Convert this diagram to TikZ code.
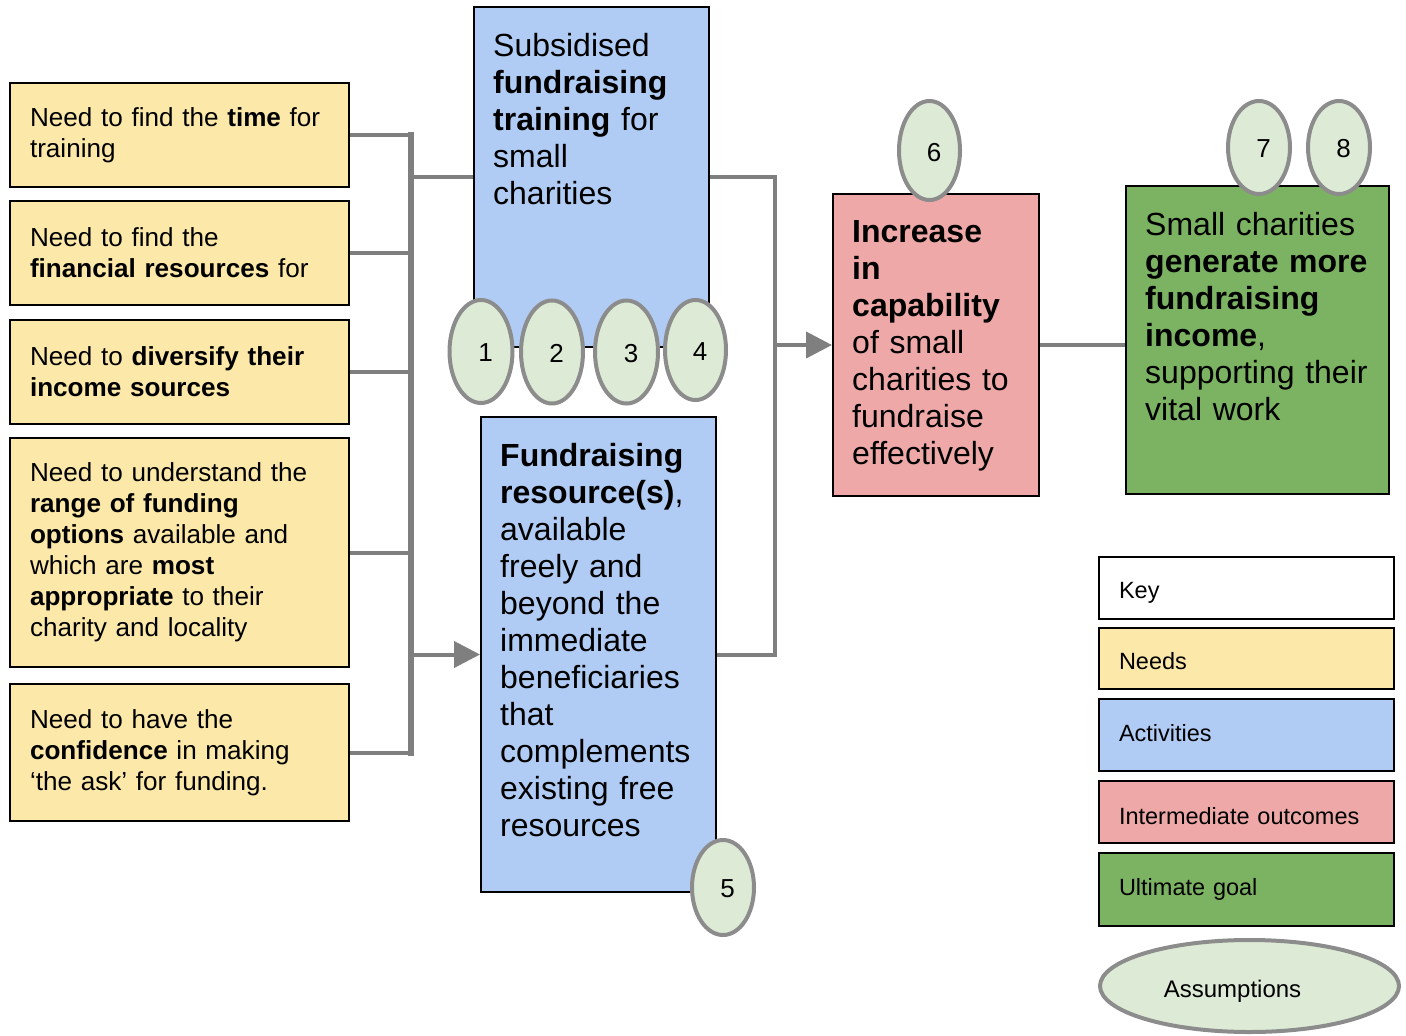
\documentclass[tikz,border=0pt]{standalone}
\usepackage{fontspec}
\setmainfont{Liberation Sans}
\usetikzlibrary{arrows.meta,positioning,shapes.geometric}
\definecolor{nyellow}{HTML}{FCE8A8}
\definecolor{ablue}{HTML}{B1CCF4}
\definecolor{ored}{HTML}{EFA8A8}
\definecolor{ggreen}{HTML}{7BB362}
\definecolor{asmfill}{HTML}{DDEBD6}
\definecolor{asmline}{HTML}{8C8C8C}
\definecolor{cgray}{HTML}{7F7F7F}
\newcommand{\needfont}{\fontsize{26.1}{31}\selectfont}
\newcommand{\boxfont}{\fontsize{32}{37}\selectfont}
\newcommand{\keyfont}{\fontsize{23.5}{28}\selectfont}
\newcommand{\numfont}{\fontsize{26}{30}\selectfont}
\tikzset{
  % filled box with a plain black border
  box/.style    = {rectangle, draw=black, line width=2pt, fill=#1, inner sep=0pt},
  box/.default  = white,
  need/.style   = {box=nyellow, text width=299pt, inner xsep=20pt, align=left, font=\needfont},
  boxtxt/.style = {inner sep=0pt, text width=230pt, align=left, font=\boxfont},
  keybox/.style = {box=#1, text width=255pt, inner xsep=20pt, align=left, font=\keyfont, text depth=0pt},
  asm/.style    = {ellipse, draw=asmline, line width=4pt, fill=asmfill, inner sep=0pt, font=\numfont,
                   text height=20pt, text depth=0pt},
  num/.style    = {asm, execute at begin node={\hspace*{9pt}}},
  conn/.style   = {draw=cgray, line width=4pt},
  bus/.style    = {draw=cgray, line width=6.5pt, line cap=rect},
  arr/.style    = {conn, -{Triangle[length=26pt,width=26pt]}},
}

\begin{document}
\begin{tikzpicture}[x=1pt,y=-1pt]
\useasboundingbox (0,0) rectangle (1406,1036);
% needs
\node[need, minimum height=104pt] (need1) at (179.5,135)
  {Need to find the \textbf{time} for\\training};
\node[need, minimum height=104pt] (need2) at (179.5,253)
  {Need to find the\\\textbf{financial resources} for};
\node[need, minimum height=104pt] (need3) at (179.5,372)
  {Need to \textbf{diversify their}\\\textbf{income sources}};
\node[need, minimum height=229pt] (need4) at (179.5,552.5)
  {Need to understand the\\\textbf{range of funding}\\\textbf{options} available and\\which are \textbf{most}\\\textbf{appropriate} to their\\charity and locality};
\node[need, minimum height=137pt] (need5) at (179.5,752.5)
  {Need to have the\\\textbf{confidence} in making\\‘the ask’ for funding.};
% activities
\node[box=ablue, minimum width=235pt, minimum height=340pt] (sub) at (591.5,177) {};
\node[boxtxt, below right=27pt and 20pt of sub.north west] (subtxt)
  {Subsidised\\\textbf{fundraising}\\\textbf{training} for\\small\\charities};
\node[box=ablue, minimum width=235pt, minimum height=475pt] (fund) at (598.5,654.5) {};
\node[boxtxt, below right=27pt and 20pt of fund.north west] (fundtxt)
  {\textbf{Fundraising}\\\textbf{resource(s)},\\available\\freely and\\beyond the\\immediate\\beneficiaries\\that\\complements\\existing free\\resources};
% outcomes
\node[box=ored, minimum width=206pt, minimum height=302pt] (inc) at (936,345) {};
\node[boxtxt, below right=27pt and 20pt of inc.north west] (inctxt)
  {\textbf{Increase}\\\textbf{in}\\\textbf{capability}\\of small\\charities to\\fundraise\\effectively};
\node[box=ggreen, minimum width=263pt, minimum height=308pt] (goal) at (1257.5,340) {};
\node[boxtxt, text width=250pt, below right=27pt and 20pt of goal.north west] (goaltxt)
  {Small charities\\\textbf{generate more}\\\textbf{fundraising}\\\textbf{income},\\supporting their\\vital work};
% connectors
\coordinate (busx) at (411,0);
\coordinate (loopx) at (775,0);
\foreach \n in {1,...,5} {\draw[conn] (need\n.east) -- (need\n.east -| busx);}
\draw[bus] (need1.east -| busx) -- (need5.east -| busx);
\draw[conn] (sub.west -| busx) -- (sub.west);
\draw[arr] (fund.west -| busx) -- (fund.west);
\draw[conn] (sub.east) -- (sub.east -| loopx) -- (fund.east -| loopx) -- (fund.east);
\draw[arr] (inc.west -| loopx) -- (inc.west);
\draw[conn] (inc.east) -- (inc.east -| goal.west);
% assumptions
\node[num, minimum width=63pt, minimum height=103pt] (a1) at (481,351.5) {1};
\node[num, minimum width=62pt, minimum height=103pt] (a2) at (552,352) {2};
\node[num, minimum width=63pt, minimum height=103pt] (a3) at (626.5,352) {3};
\node[num, minimum width=61pt, minimum height=100pt] (a4) at (695.5,350) {4};
\node[num, minimum width=62pt, minimum height=95pt] (a5) at (723,887.5) {5};
\node[num, minimum width=61pt, minimum height=99pt, text height=22pt] (a6) at (929.5,150.5) {6};
\node[num, minimum width=62pt, minimum height=93pt] (a7) at (1259,147.5) {7};
\node[num, minimum width=62pt, minimum height=93pt] (a8) at (1339,147.5) {8};
% key
\node[keybox=white, minimum height=62pt, text height=21pt] (kkey) at (1246.5,588) {Key};
\node[keybox=nyellow, minimum height=61pt, text height=22pt] (kneed) at (1246.5,658.5) {Needs};
\node[keybox=ablue, minimum height=72pt, text height=13pt] (kact) at (1246.5,735) {Activities};
\node[keybox=ored, minimum height=62pt, text height=25pt] (kinc) at (1246.5,812) {Intermediate outcomes};
\node[keybox=ggreen, minimum height=73pt, text height=12pt] (kgoal) at (1246.5,889.5) {Ultimate goal};
\node[asm, minimum width=299pt, minimum height=92pt, font=\fontsize{24}{28}\selectfont,
      text height=23pt, execute at end node={\hspace*{34pt}}] (kasm) at (1249.5,986) {Assumptions};
\end{tikzpicture}
\end{document}
